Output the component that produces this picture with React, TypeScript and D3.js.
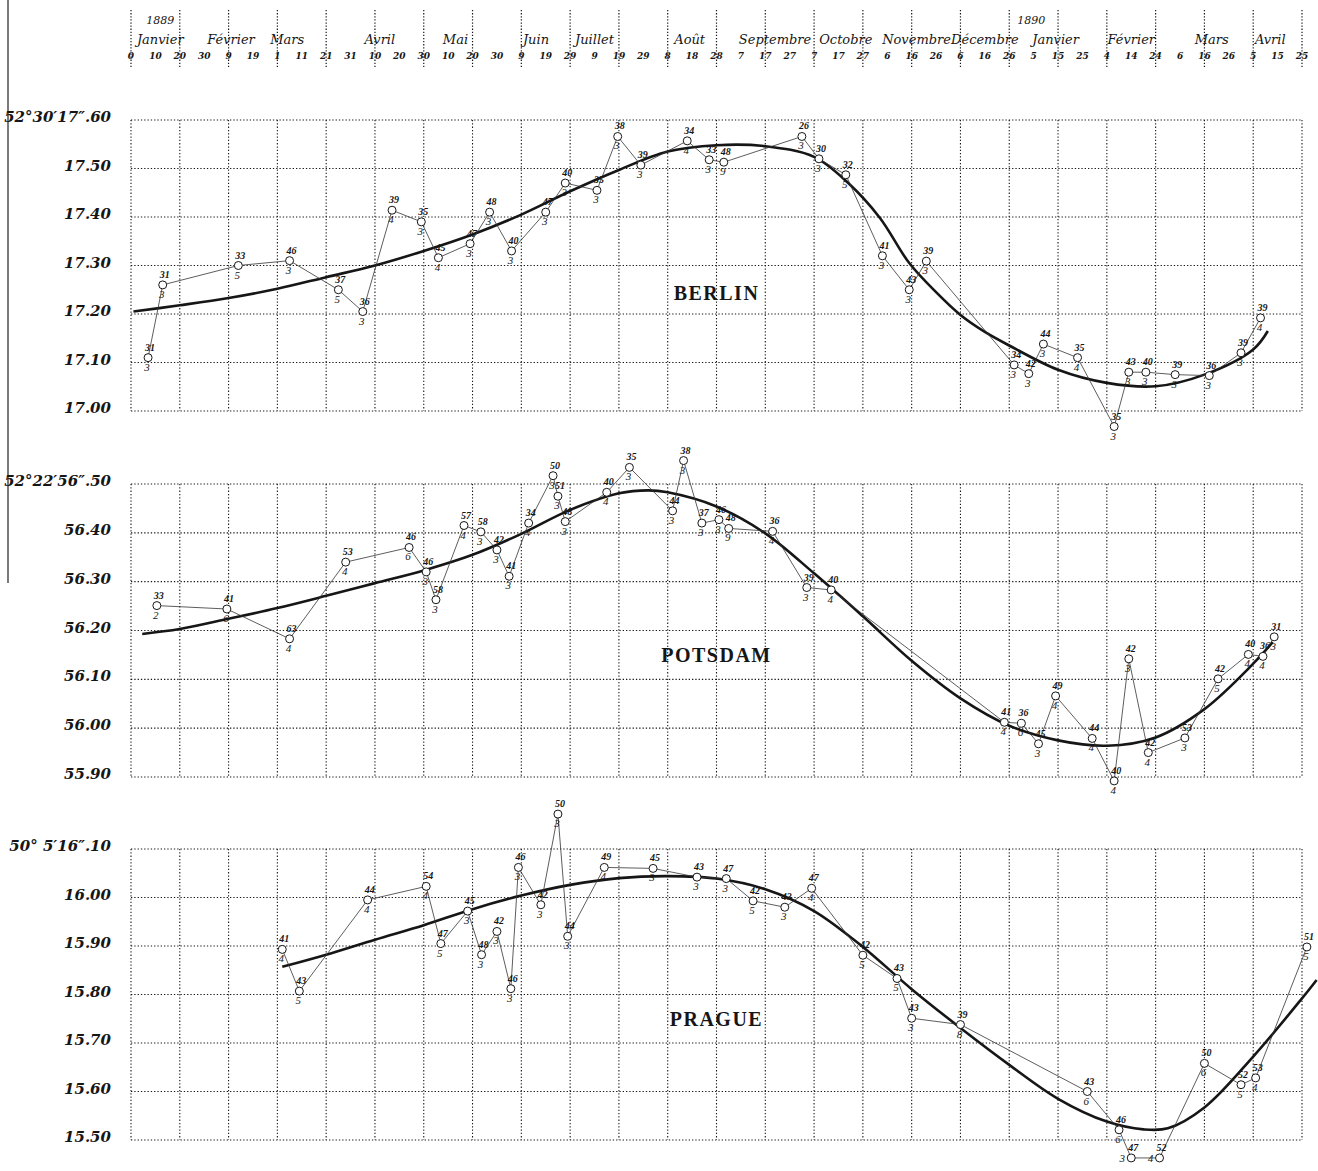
import React from "react";
import * as d3 from "d3";

// header: day ticks every 10 days from 1889 Jan 0
const dayTickLabels = [
  "0", "10", "20", "30", "9", "19", "1", "11", "21", "31", "10", "20", "30",
  "10", "20", "30", "9", "19", "29", "9", "19", "29", "8", "18", "28", "7",
  "17", "27", "7", "17", "27", "6", "16", "26", "6", "16", "26", "5", "15",
  "25", "4", "14", "24", "6", "16", "26", "5", "15", "25",
];
const monthNames = [
  "Janvier", "Février", "Mars", "Avril", "Mai", "Juin", "Juillet", "Août",
  "Septembre", "Octobre", "Novembre", "Décembre", "Janvier", "Février", "Mars", "Avril",
];
const monthDays = [12, 41, 64, 102, 133, 166, 190, 229, 264, 293, 322, 350, 379, 410, 443, 467];
const yearNames = ["1889", "1890"];
const yearDays = [12, 369];

const berlinTicks = ["52°30′17″.60", "17.50", "17.40", "17.30", "17.20", "17.10", "17.00"];
const potsdamTicks = ["52°22′56″.50", "56.40", "56.30", "56.20", "56.10", "56.00", "55.90"];
const pragueTicks = ["50° 5′16″.10", "16.00", "15.90", "15.80", "15.70", "15.60", "15.50"];

// [day, latitude seconds, upper number, lower number]
const berlinObs: [number, number, string, string][] = [
  [7, 17.11, "31", "3"], [13, 17.26, "31", "3"], [44, 17.30, "33", "5"],
  [65, 17.31, "46", "3"], [85, 17.25, "37", "5"], [95, 17.205, "36", "3"],
  [107, 17.414, "39", "4"], [119, 17.39, "35", "3"], [126, 17.316, "45", "4"],
  [139, 17.345, "47", "3"], [147, 17.41, "48", "3"], [156, 17.33, "40", "3"],
  [170, 17.41, "47", "3"], [178, 17.47, "40", "3"], [191, 17.455, "35", "3"],
  [199.5, 17.566, "38", "3"], [209, 17.507, "39", "3"], [228, 17.557, "34", "4"],
  [237, 17.518, "33", "3"], [243, 17.513, "48", "9"], [275, 17.566, "26", "3"],
  [282, 17.52, "30", "3"], [293, 17.487, "32", "5"], [308, 17.32, "41", "3"],
  [319, 17.25, "43", "3"], [326, 17.309, "39", "3"], [362, 17.095, "34", "3"],
  [368, 17.077, "42", "3"], [374, 17.138, "44", "3"], [388, 17.11, "35", "4"],
  [403, 16.968, "35", "3"], [409, 17.08, "43", "3"], [416, 17.08, "40", "3"],
  [428, 17.075, "39", "3"], [442, 17.073, "36", "3"], [455, 17.12, "39", "3"],
  [463, 17.192, "39", "4"],
];
const berlinCurve: [number, number][] = [
  [1, 17.205], [20, 17.218], [40, 17.233], [60, 17.252], [80, 17.276], [100, 17.30],
  [120, 17.33], [140, 17.364], [160, 17.405], [180, 17.453], [200, 17.497],
  [220, 17.535], [240, 17.548], [260, 17.546], [280, 17.524], [294, 17.47],
  [307, 17.398], [319, 17.305], [330, 17.245], [340, 17.198], [350, 17.163],
  [360, 17.135], [380, 17.085], [400, 17.058], [420, 17.051], [440, 17.075],
  [460, 17.127], [466, 17.165],
];

const potsdamObs: [number, number, string, string][] = [
  [10.6, 56.251, "33", "2"], [39.3, 56.244, "41", "6"], [65, 56.183, "63", "4"],
  [88, 56.34, "53", "4"], [114, 56.37, "46", "6"], [121, 56.32, "46", "3"],
  [125, 56.263, "58", "3"], [136.5, 56.415, "57", "4"], [143.4, 56.402, "58", "3"],
  [150, 56.365, "42", "3"], [155, 56.311, "41", "3"], [163, 56.42, "34", "4"],
  [173, 56.517, "50", "3"], [175, 56.475, "51", "3"], [178, 56.423, "48", "3"],
  [195, 56.483, "40", "4"], [204.3, 56.534, "35", "3"], [222, 56.445, "44", "3"],
  [226.5, 56.548, "38", "3"], [234, 56.42, "37", "3"], [241, 56.427, "46", "3"],
  [245, 56.409, "48", "9"], [263, 56.403, "36", "4"], [277, 56.288, "39", "3"],
  [287, 56.283, "40", "4"], [358, 56.012, "41", "4"], [365, 56.01, "36", "6"],
  [372, 55.968, "45", "3"], [379, 56.066, "49", "4"], [394, 55.979, "44", "4"],
  [403, 55.892, "40", "4"], [409, 56.142, "42", "3"], [417, 55.95, "42", "4"],
  [432, 55.98, "53", "3"], [445.6, 56.101, "42", "5"], [458, 56.151, "40", "4"],
  [464, 56.147, "36", "4"], [468.6, 56.187, "31", "3"],
];
const potsdamCurve: [number, number][] = [
  [4.6, 56.193], [20, 56.203], [40, 56.224], [60, 56.246], [80, 56.271], [100, 56.297],
  [120, 56.323], [140, 56.355], [160, 56.398], [180, 56.447], [200, 56.481],
  [212, 56.487], [220, 56.483], [240, 56.454], [260, 56.399], [280, 56.317],
  [300, 56.229], [320, 56.138], [340, 56.061], [360, 56.005], [380, 55.975],
  [400, 55.964], [420, 55.981], [440, 56.039], [460, 56.132], [468, 56.176],
];

const pragueObs: [number, number, string, string][] = [
  [62, 15.893, "41", "4"], [69, 15.807, "43", "5"], [97, 15.995, "44", "4"],
  [121, 16.023, "54", "4"], [127, 15.905, "47", "5"], [138, 15.972, "45", "3"],
  [143.7, 15.882, "48", "3"], [150, 15.93, "42", "3"], [155.7, 15.812, "46", "3"],
  [158.8, 16.062, "46", "3"], [168, 15.985, "42", "3"], [175, 16.172, "50", "3"],
  [179, 15.92, "44", "3"], [194, 16.062, "49", "4"], [214, 16.06, "45", "3"],
  [232, 16.042, "43", "3"], [244, 16.039, "47", "3"], [255, 15.993, "42", "5"],
  [268, 15.98, "43", "3"], [279, 16.019, "47", "4"], [300, 15.881, "42", "5"],
  [314, 15.833, "43", "5"], [320, 15.751, "43", "3"], [340, 15.738, "39", "8"],
  [392, 15.60, "43", "6"], [405, 15.521, "46", "6"], [410, 15.463, "47", "3"],
  [421.6, 15.463, "52", "4"], [440, 15.658, "50", "6"], [455, 15.614, "52", "5"],
  [461, 15.628, "53", "4"], [482, 15.898, "51", "5"],
];
const pragueCurve: [number, number][] = [
  [62, 15.857], [80, 15.882], [100, 15.913], [120, 15.943], [140, 15.976],
  [160, 16.004], [180, 16.026], [200, 16.040], [220, 16.044], [240, 16.039],
  [260, 16.017], [280, 15.972], [300, 15.898], [320, 15.811], [340, 15.731],
  [360, 15.655], [380, 15.585], [400, 15.538], [415, 15.522], [425, 15.524],
  [440, 15.567], [460, 15.672], [480, 15.792], [486, 15.83],
];

const W = 1318;
const H = 1171;
const serif = "'DejaVu Serif', 'Liberation Serif', serif";
const roman = "'Liberation Serif', 'DejaVu Serif', serif";
const ink = "#161616";

const x = d3.scaleLinear().domain([0, 480]).range([131, 1302]);

const panels = [
  { name: "BERLIN", obs: berlinObs, curve: berlinCurve, ticks: berlinTicks, lo: 17.0, hi: 17.6, top: 120, bottom: 411, labelAt: 17.243 },
  { name: "POTSDAM", obs: potsdamObs, curve: potsdamCurve, ticks: potsdamTicks, lo: 55.9, hi: 56.5, top: 484, bottom: 777, labelAt: 56.15 },
  { name: "PRAGUE", obs: pragueObs, curve: pragueCurve, ticks: pragueTicks, lo: 15.5, hi: 16.1, top: 849, bottom: 1140, labelAt: 15.75 },
];

const gridDays = d3.range(0, 481, 20);

const Panel = ({ p }: { p: (typeof panels)[number] }) => {
  const y = d3.scaleLinear().domain([p.lo, p.hi]).range([p.bottom, p.top]);
  const levels = d3.range(0, 7).map((i) => p.hi - i * 0.1);
  const obsLine = d3
    .line<[number, number, string, string]>()
    .x((d) => x(d[0]))
    .y((d) => y(d[1]));
  const curveLine = d3
    .line<[number, number]>()
    .x((d) => x(d[0]))
    .y((d) => y(d[1]))
    .curve(d3.curveCatmullRom.alpha(0.5));

  return (
    <g>
      {/* dotted grid */}
      {levels.map((v, i) => (
        <line key={"h" + i} x1={x(0)} x2={x(480)} y1={y(v)} y2={y(v)}
          stroke={ink} strokeWidth={1.1} strokeDasharray="1.3 2" />
      ))}
      {gridDays.map((d) => (
        <line key={"v" + d} x1={x(d)} x2={x(d)} y1={y(p.hi)} y2={y(p.lo)}
          stroke={ink} strokeWidth={1.1} strokeDasharray="1.3 2" />
      ))}
      {/* y labels */}
      {levels.map((v, i) => (
        <text key={"t" + i} x={111} y={y(v) + 2} textAnchor="end"
          fontFamily={serif} fontStyle="italic" fontWeight="bold" fontSize={15} fill={ink}>
          {p.ticks[i]}
        </text>
      ))}
      <text x={x(240)} y={y(p.labelAt) + 7} textAnchor="middle" fontFamily={roman}
        fontWeight="bold" fontSize={20} fill={ink} letterSpacing={1.5}>
        {p.name}
      </text>
      <path d={curveLine(p.curve) ?? ""} fill="none" stroke={ink} strokeWidth={2.6} />
      <path d={obsLine(p.obs) ?? ""} fill="none" stroke="#333" strokeWidth={0.8} />
      {p.obs.map((d, i) => {
        const cx = x(d[0]);
        const cy = y(d[1]);
        // keep lower number inside the picture near the bottom edge
        const low = cy + 13 > H - 6;
        return (
          <g key={"o" + i}>
            <circle cx={cx} cy={cy} r={4} fill="#fff" stroke={ink} strokeWidth={1} />
            <text x={cx + 2} y={cy - 7} textAnchor="middle" fontFamily={roman}
              fontStyle="italic" fontWeight="bold" fontSize={10} fill={ink}>{d[2]}</text>
            <text x={low ? cx - 9 : cx - 1} y={low ? cy + 4 : cy + 13} textAnchor="middle"
              fontFamily={roman} fontStyle="italic" fontSize={11} fill={ink}>{d[3]}</text>
          </g>
        );
      })}
    </g>
  );
};

export default function App() {
  return (
    <svg width={W} height={H} viewBox={`0 0 ${W} ${H}`}
      style={{ position: "absolute", left: 0, top: 0, background: "#fff" }}>
      <rect width={W} height={H} fill="#fff" />
      <line x1={8} x2={8} y1={0} y2={583} stroke="#333" strokeWidth={1.3} />
      {/* header */}
      {gridDays.map((d) => (
        <line key={"hd" + d} x1={x(d)} x2={x(d)} y1={10} y2={68}
          stroke={ink} strokeWidth={1.2} strokeDasharray="1.3 1.8" />
      ))}
      {yearNames.map((s, i) => (
        <text key={s} x={x(yearDays[i])} y={24} textAnchor="middle" fontFamily={serif}
          fontStyle="italic" fontSize={11} fill={ink}>{s}</text>
      ))}
      {monthNames.map((m, i) => (
        <text key={"m" + i} x={x(monthDays[i])} y={44} textAnchor="middle" fontFamily={serif}
          fontStyle="italic" fontSize={13} fill={ink}>{m}</text>
      ))}
      {dayTickLabels.map((s, i) => (
        <text key={"d" + i} x={x(i * 10)} y={59} textAnchor="middle" fontFamily={serif}
          fontStyle="italic" fontWeight="bold" fontSize={9} fill={ink}>{s}</text>
      ))}
      {panels.map((p) => (
        <Panel key={p.name} p={p} />
      ))}
    </svg>
  );
}
